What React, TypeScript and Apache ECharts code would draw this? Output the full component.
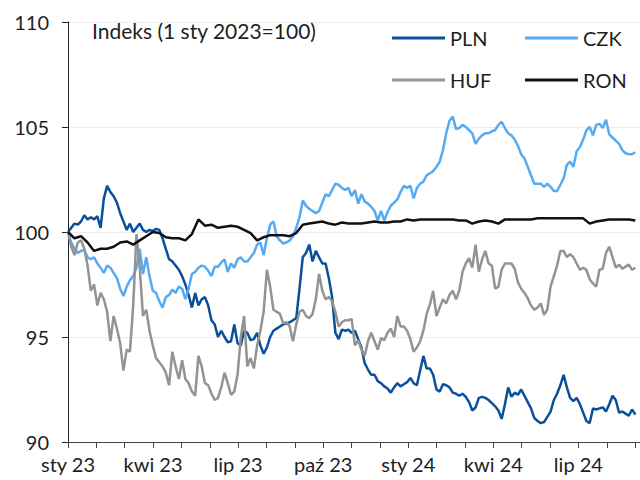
import React, { useEffect, useRef } from "react";
import * as echarts from "echarts";

// Observations start 1 Jan 2023; x values are day offsets from that date
const START_DATE = "2023-01-01";
const STEP_DAYS = 3.5; // PLN, CZK, HUF sampling
const RON_STEP_DAYS = 7; // RON sampling
const MONTH_DAYS = 365.25 / 12;

const xTickLabels = ["sty 23", "kwi 23", "lip 23", "paź 23", "sty 24", "kwi 24", "lip 24"];
const yTicks = [90, 95, 100, 105, 110];
const seriesNames = ["PLN", "CZK", "HUF", "RON"];
const seriesColors = ["#0a4f9c", "#55aaf2", "#939393", "#111111"];
const titleText = "Indeks (1 sty 2023=100)";

const pln = [
  100.0, 100.2, 100.4, 100.35, 100.5, 100.8, 100.6, 100.7, 100.6, 100.75,
  100.2, 101.6, 102.2, 101.9, 101.7, 101.4, 100.9, 100.5, 100.1, 100.4,
  100.0, 100.2, 100.4, 100.1, 100.0, 100.1, 100.05, 100.15, 100.1, 99.7,
  99.2, 98.7, 98.6, 98.4, 98.2, 97.9, 97.5, 97.0, 96.4, 97.1,
  96.5, 96.8, 96.9, 96.5, 95.8, 95.6, 95.0, 95.3, 95.0, 94.75,
  94.8, 95.6, 94.7, 94.6, 95.3, 95.2, 94.85, 94.9, 95.2, 94.6,
  94.2, 94.5, 95.0, 95.3, 95.4, 95.5, 95.6, 95.65, 95.7, 95.8,
  95.9, 97.3, 98.8, 99.0, 99.4, 98.6, 99.1, 98.8, 98.5, 98.5,
  97.8, 96.9, 95.2, 94.9, 95.35, 95.3, 95.35, 95.2, 95.3, 94.9,
  94.5, 93.75, 93.45, 93.2, 93.2, 92.9, 92.8, 92.65, 92.55, 92.35,
  92.6, 92.8, 92.65, 92.75, 92.85, 93.05, 92.8, 92.7, 93.4, 94.1,
  93.5, 93.5, 93.2, 92.5, 92.4, 92.75, 92.7, 92.6, 92.35, 92.3,
  92.2, 92.3, 92.15, 91.9, 91.5, 91.65, 92.1, 92.15, 92.1, 92.0,
  91.85, 91.7, 91.5, 91.1, 91.8, 92.6, 92.15, 92.35, 92.25, 92.5,
  92.2, 91.9, 91.6, 91.15, 91.0, 90.9, 90.95, 91.2, 91.45, 92.0,
  92.3, 92.7, 93.2, 92.6, 92.1, 91.95, 92.1, 91.8, 91.4, 91.0,
  90.9, 91.6, 91.55, 91.6, 91.65, 91.45, 91.8, 92.2, 92.0, 91.4,
  91.45, 91.35, 91.25, 91.55, 91.3,
];

const czk = [
  100.0, 99.5, 99.2, 99.0, 99.1, 99.15, 98.8, 98.7, 98.8, 98.5,
  98.3, 98.05, 98.4, 98.3, 98.05, 97.8, 97.3, 96.95, 97.4, 97.7,
  97.9, 98.3, 99.2, 98.0, 98.8, 97.9, 97.2, 97.1, 96.7, 96.4,
  96.9, 97.0, 97.25, 97.1, 97.4, 97.3, 96.8, 97.3, 98.0, 98.1,
  98.3, 98.4, 98.35, 98.15, 97.9, 98.35, 98.35, 98.55, 98.7, 98.1,
  98.5, 98.3, 98.7, 98.8, 98.6, 98.6, 98.8, 99.0, 99.4, 99.5,
  98.9, 99.7, 100.35, 100.5, 99.8, 99.6, 99.45, 99.5, 99.6, 99.8,
  100.2, 100.7, 101.5, 101.25, 101.1, 101.0, 100.9, 101.0, 101.4, 101.8,
  101.7, 102.0, 102.3, 102.25, 102.1, 102.0, 102.1, 101.7, 102.0, 101.35,
  101.8, 101.45, 101.35, 101.2, 101.0, 100.55, 101.0, 100.55, 100.95, 101.25,
  101.4, 101.55, 101.9, 102.2, 102.1, 102.2, 101.6, 102.1, 102.3, 102.4,
  102.7, 102.8, 102.9, 103.1, 103.35, 103.9, 104.7, 105.3, 105.5, 104.9,
  104.95, 105.1, 105.0, 104.85, 104.7, 104.2, 104.45, 104.6, 104.7, 104.7,
  104.8, 104.85, 105.1, 105.25, 104.95, 104.7, 104.6, 104.4, 104.1, 103.7,
  103.5, 103.1, 102.7, 102.3, 102.3, 102.3, 102.15, 102.3, 102.15, 101.95,
  101.95, 102.25, 102.55, 103.2, 103.35, 103.1, 103.85, 104.05, 104.4, 104.85,
  105.0, 104.6, 105.1, 105.15, 104.95, 105.35, 104.65, 104.5, 104.35, 104.2,
  103.9, 103.75, 103.7, 103.7, 103.8,
];

const huf = [
  100.0, 99.3, 98.9, 99.5, 99.6, 99.2, 98.4, 97.2, 97.5, 96.5,
  97.1, 96.8, 96.2, 94.8, 96.0, 95.4, 94.7, 93.4, 94.4, 94.3,
  96.5, 99.9, 98.3, 96.0, 96.3, 95.3, 94.6, 94.0, 93.8, 93.6,
  93.3, 92.7, 94.3, 93.6, 93.0, 93.9, 93.0, 92.8, 92.4, 92.2,
  94.1, 93.6, 92.8, 92.7, 92.3, 92.0, 92.1, 92.6, 93.3, 92.8,
  92.25, 92.4, 93.2, 95.0, 96.0, 93.6, 94.0, 93.5, 94.6, 95.3,
  96.2, 98.2, 97.4, 96.3, 96.2, 96.1, 95.65, 95.7, 95.5, 94.8,
  95.6, 96.2, 96.3, 96.0, 95.9, 96.1, 96.8, 98.0, 97.2, 96.8,
  96.9, 96.7, 96.2, 95.5, 95.7, 95.8, 95.8, 95.85, 94.6, 94.85,
  94.4, 94.1, 94.8, 95.2, 94.8, 94.4, 94.95, 94.85, 95.2, 95.4,
  95.0, 96.0, 95.5, 95.5, 95.3, 94.9, 94.3, 94.5, 94.8, 95.3,
  96.1, 96.55, 97.2, 96.0, 96.4, 96.8, 96.6, 97.0, 97.2, 96.8,
  97.2, 98.1, 98.5, 98.75, 98.3, 99.4, 98.1, 98.7, 99.1, 98.5,
  98.4, 97.3, 97.4, 98.2, 98.5, 98.5, 98.5, 98.25, 97.6, 97.3,
  97.1, 96.85, 96.5, 96.3, 96.4, 96.6, 96.05, 96.3, 97.4, 97.9,
  98.4, 99.1, 99.1, 98.8, 98.95, 98.8, 98.5, 98.2, 98.3, 98.2,
  97.75, 97.55, 97.4, 98.2, 98.25, 99.0, 99.3, 98.8, 98.3, 98.45,
  98.25, 98.35, 98.45, 98.2, 98.3,
];

const ron = [
  100.0, 99.7, 99.8, 99.5, 99.1, 99.2, 99.2, 99.3, 99.5, 99.55,
  99.4, 99.6, 99.8, 100.0, 99.95, 99.75, 99.7, 99.7, 99.6, 99.9,
  100.6, 100.3, 100.35, 100.2, 100.25, 100.3, 100.25, 100.1, 99.95, 99.6,
  99.75, 99.85, 99.85, 99.85, 99.8, 99.95, 100.35, 100.4, 100.45, 100.5,
  100.4, 100.35, 100.45, 100.4, 100.4, 100.4, 100.45, 100.5, 100.45, 100.45,
  100.5, 100.5, 100.6, 100.55, 100.6, 100.6, 100.6, 100.6, 100.6, 100.6,
  100.55, 100.55, 100.4, 100.5, 100.55, 100.5, 100.4, 100.6, 100.6, 100.6,
  100.6, 100.6, 100.65, 100.65, 100.65, 100.65, 100.65, 100.65, 100.65, 100.65,
  100.4, 100.5, 100.55, 100.6, 100.6, 100.6, 100.6, 100.55,
];

const seriesData = [pln, czk, huf, ron];
const seriesSteps = [STEP_DAYS, STEP_DAYS, STEP_DAYS, RON_STEP_DAYS];
const X_MAX_DAYS = 614;
const FONT = "Lato";
const TEXT_COLOR = "#1e1e1e";

export default function App() {
  const ref = useRef<HTMLDivElement>(null);

  useEffect(() => {
    if (!ref.current) return;
    const chart = echarts.init(ref.current, undefined, { renderer: "svg" });
    const toPairs = (arr: number[], step: number) => arr.map((v, i) => [i * step, v]);

    const legendCommon = {
      orient: "vertical" as const,
      top: 28,
      itemWidth: 53,
      itemHeight: 3,
      itemGap: 22,
      icon: "rect",
      padding: 0,
      textStyle: { fontSize: 20, fontFamily: FONT, color: TEXT_COLOR, lineHeight: 20 },
    };

    chart.setOption({
      animation: false,
      backgroundColor: "#ffffff",
      textStyle: { fontFamily: FONT },
      title: {
        text: titleText,
        left: 92,
        top: 20,
        padding: 0,
        textStyle: { fontSize: 21, fontWeight: "normal", fontFamily: FONT, color: TEXT_COLOR },
      },
      legend: [
        { ...legendCommon, left: 392, data: [seriesNames[0], seriesNames[2]] },
        { ...legendCommon, left: 525, data: [seriesNames[1], seriesNames[3]] },
      ],
      grid: { left: 68, right: 0, top: 22, bottom: 38, containLabel: false },
      xAxis: {
        type: "value",
        min: 0,
        max: X_MAX_DAYS,
        interval: MONTH_DAYS,
        axisLine: { show: true, lineStyle: { color: "#444", width: 1 } },
        axisTick: { show: true, length: 6, lineStyle: { color: "#444" } },
        splitLine: { show: false },
        axisLabel: {
          margin: 12,
          fontSize: 20,
          fontFamily: FONT,
          color: TEXT_COLOR,
          showMaxLabel: false,
          formatter: (v: number) => {
            const k = Math.round(v / MONTH_DAYS);
            if (Math.abs(v - k * MONTH_DAYS) > 1) return "";
            if (k % 3 !== 0) return "";
            return xTickLabels[k / 3] ?? "";
          },
        },
      },
      yAxis: {
        type: "value",
        min: yTicks[0],
        max: yTicks[yTicks.length - 1],
        interval: yTicks[1] - yTicks[0],
        axisLine: { show: true, lineStyle: { color: "#222", width: 1 } },
        axisTick: { show: true, length: 6, lineStyle: { color: "#222" } },
        splitLine: { show: true, lineStyle: { color: "#ececec", width: 1 } },
        axisLabel: { margin: 19, fontSize: 20, fontFamily: FONT, color: TEXT_COLOR },
      },
      series: seriesNames.map((name, idx) => ({
        name,
        type: "line",
        data: toPairs(seriesData[idx], seriesSteps[idx]),
        showSymbol: false,
        symbol: "none",
        color: seriesColors[idx],
        lineStyle: { width: 2.5, color: seriesColors[idx] },
        z: 2 + idx,
      })),
    });

    return () => chart.dispose();
  }, []);

  return (
    <div
      ref={ref}
      data-start={START_DATE}
      style={{ position: "fixed", left: 0, top: 0, width: 640, height: 480 }}
    />
  );
}
